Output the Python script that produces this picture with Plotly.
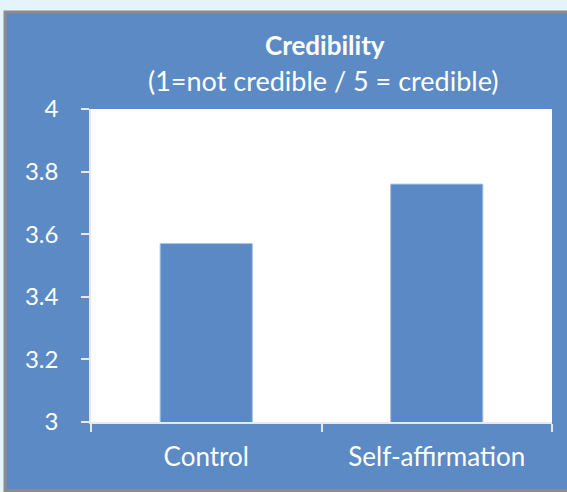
import plotly.graph_objects as go

categories = ["Control", "Self-affirmation"]
values = [3.57, 3.76]
y_ticks = [3, 3.2, 3.4, 3.6, 3.8, 4]
title_main = "Credibility"
title_sub = "(1=not credible / 5 = credible)"

W, H = 567, 492
ML, MR, MT, MB = 91, 15, 109, 70
PW = W - ML - MR
PH = H - MT - MB

def px_x(px):
    return (px - ML) / PW

def px_y(py):
    return (H - MB - py) / PH

panel_blue = "#5B8AC5"
font_family = "Lato, 'Open Sans', sans-serif"

fig = go.Figure(
    go.Bar(
        x=categories,
        y=values,
        marker=dict(color="#5A89C5", line=dict(color="#A9C1E3", width=1)),
        width=0.4,
    )
)

fig.update_layout(
    width=W,
    height=H,
    margin=dict(l=ML, r=MR, t=MT, b=MB),
    paper_bgcolor="#E5F3FA",
    plot_bgcolor="white",
    showlegend=False,
    font=dict(family=font_family, color="white", size=20),
    shapes=[
        dict(type="rect", xref="paper", yref="paper",
             x0=px_x(5), x1=px_x(580), y0=px_y(490.5), y1=px_y(12),
             fillcolor=panel_blue, line=dict(color="#8C8C8C", width=3),
             layer="below"),
        dict(type="rect", xref="paper", yref="paper",
             x0=0, x1=1, y0=0, y1=1,
             fillcolor="white", line=dict(width=0), layer="below"),
    ],
    annotations=[
        dict(text="<b>" + title_main + "</b>", xref="paper", yref="paper",
             x=px_x(325), y=px_y(45), showarrow=False,
             font=dict(size=26, color="white", family=font_family),
             xanchor="center", yanchor="middle"),
        dict(text=title_sub, xref="paper", yref="paper",
             x=px_x(323), y=px_y(80), showarrow=False,
             font=dict(size=27, color="white", family=font_family),
             xanchor="center", yanchor="middle"),
    ],
)

fig.update_yaxes(
    range=[3, 4],
    tickvals=y_ticks,
    ticks="outside",
    ticklen=8,
    tickcolor="#E8E8E8",
    tickwidth=1.5,
    showline=True,
    linecolor="#E8E8E8",
    linewidth=1.5,
    showgrid=False,
    zeroline=False,
    tickfont=dict(size=24, color="white", family=font_family),
    ticklabelstandoff=18,
)

fig.update_xaxes(
    tickson="boundaries",
    ticks="outside",
    ticklen=8,
    tickcolor="#E8E8E8",
    tickwidth=1.5,
    showline=True,
    linecolor="#E8E8E8",
    linewidth=1.5,
    showgrid=False,
    tickfont=dict(size=26, color="white", family=font_family),
    ticklabelstandoff=11,
)

fig.write_html(
    "out.html",
    config={"displayModeBar": False},
    post_script="document.body.style.margin='0';document.body.style.background='#E5F3FA';document.body.style.overflow='hidden';",
)
